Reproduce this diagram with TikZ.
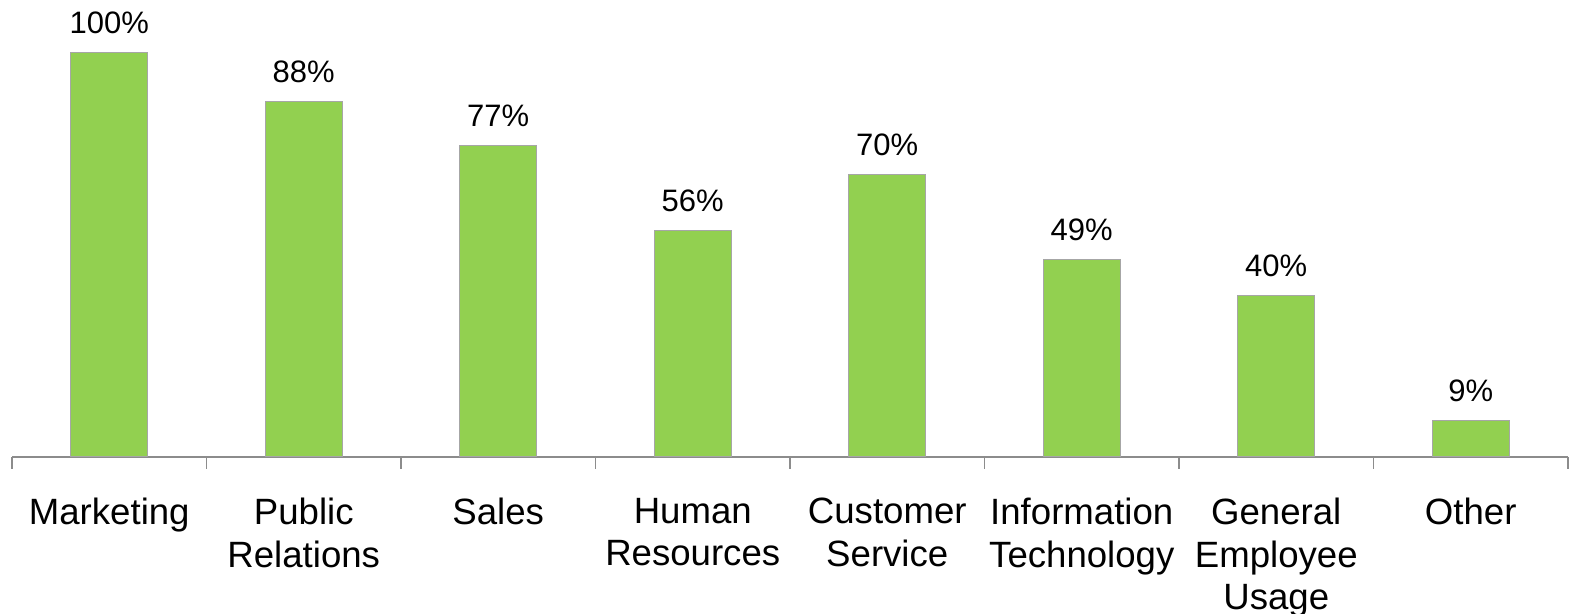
\documentclass[tikz,border=0pt]{standalone}
\usepackage{fontspec}
\setmainfont{Liberation Sans}
\definecolor{barfill}{HTML}{92D050}
\definecolor{barline}{HTML}{A6A6A6}
\definecolor{axisgray}{HTML}{8C8C8C}
\begin{document}
\begin{tikzpicture}[
                    x=0.5pt, y=0.5pt,
                    bar/.style={rectangle, draw=barline, fill=barfill, line width=0.5pt,
                                minimum width=38.5pt, inner sep=0pt, outer sep=0pt},
                    pct/.style={font=\fontsize{15.5}{18}\selectfont, inner sep=0pt},
                    cat/.style={font=\fontsize{18.3}{21.2}\selectfont, align=center, inner sep=0pt},
                    axis/.style={draw=axisgray, line width=0.9pt}
                ]
                \useasboundingbox (0,0) rectangle (1569,614);
                % Axis
                \foreach \k in {0,...,8}
                    \coordinate (t\k) at ({12+194.5*\k},157);
                \draw [axis] (t0) -- (t8);
                \foreach \k in {0,...,8}
                    \draw [axis] (t\k) -- ++(0,-12);

                % Bars
                \foreach \v/\t [count=\i] in {100/Marketing, 88/{Public\\Relations}, 77/Sales,
                        56/{Human\\Resources}, 70/{Customer\\Service}, 49/{Information\\Technology},
                        40/{General\\Employee\\Usage}, 9/Other}
                {
                    \node [bar, minimum height=2.02pt*\v, anchor=south] (bar\i) at ({12+194.5*(\i-0.5)},157) {};
                    \node [pct, anchor=base] (val\i) at ([yshift=9.5pt]bar\i.north) {\v\%};
                    \node [cat, anchor=north] (lab\i) at ({12+194.5*(\i-0.5)},116) {\t};
                }
            \end{tikzpicture}
\end{document}
